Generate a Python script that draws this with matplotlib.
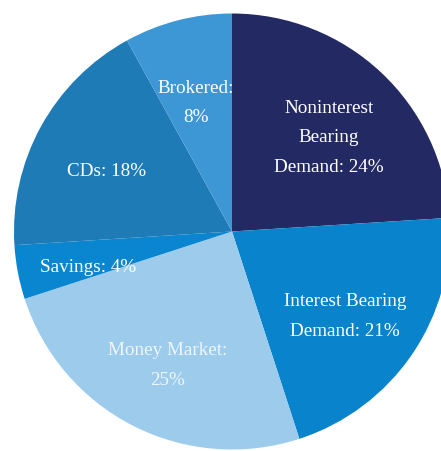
import matplotlib
matplotlib.use('Agg')
import matplotlib.pyplot as plt
import numpy as np

# deposit mix, clockwise from 12 o'clock
categories = ['Noninterest Bearing Demand', 'Interest Bearing Demand', 'Money Market',
              'Savings', 'CDs', 'Brokered']
shares = [24, 21, 25, 4, 18, 8]
labels = ['Noninterest\nBearing\nDemand: 24%', 'Interest Bearing\nDemand: 21%',
          'Money Market:\n25%', 'Savings: 4%', 'CDs: 18%', 'Brokered:\n8%']

colors = ['#232a63', '#0883cc', '#9ccbeb', '#0a86d0', '#1f7bb5', '#3d97d5']
label_colors = ['white', 'white', '#eef5fb', 'white', 'white', 'white']
# label placement in pie units (radius 1)
label_pos = [(0.445, 0.43), (0.52, -0.39), (-0.295, -0.615), (-0.66, -0.165),
             (-0.575, 0.275), (-0.165, 0.59)]

fig = plt.figure(figsize=(4.41, 4.51), dpi=100)
ax = fig.add_axes([0, 0, 1, 1])

ax.pie(shares, colors=colors, startangle=90, counterclock=False,
       wedgeprops={'linewidth': 0})

for text, (x, y), c in zip(labels, label_pos, label_colors):
    ax.text(x, y, text, ha='center', va='center', color=c,
            fontsize=13.8, family='Liberation Serif', linespacing=1.95)

# pie centre at (232, 231.5) px with radius 218 px
r = 218.0
ax.set_aspect('auto')
ax.set_xlim(-232 / r, (441 - 232) / r)
ax.set_ylim(-(451 - 231.5) / r, 231.5 / r)
ax.axis('off')

fig.savefig('out.png', dpi=100)
